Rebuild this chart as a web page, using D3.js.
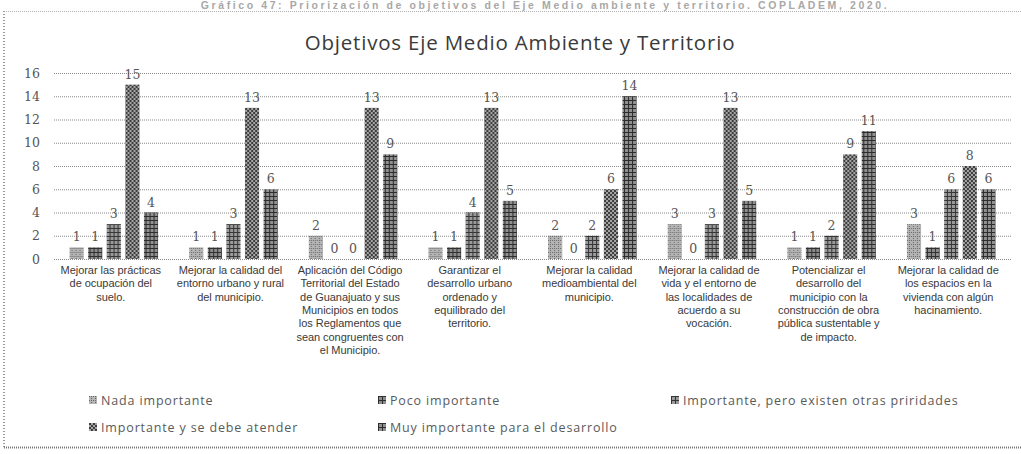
<!DOCTYPE html>
<html>
<head>
<meta charset="utf-8">
<script src="https://cdn.jsdelivr.net/npm/d3@7/dist/d3.min.js"></script>
<style>
  body { margin: 0; background: #fff; }
  svg { display: block; }
</style>
</head>
<body>
<svg width="1021" height="454"></svg>
<script>
// data
const categories = [
  "Mejorar las prácticas\nde ocupación del\nsuelo.",
  "Mejorar la calidad del\nentorno urbano y rural\ndel municipio.",
  "Aplicación del Código\nTerritorial del Estado\nde Guanajuato y sus\nMunicipios en todos\nlos Reglamentos que\nsean congruentes con\nel Municipio.",
  "Garantizar el\ndesarrollo urbano\nordenado y\nequilibrado del\nterritorio.",
  "Mejorar la calidad\nmedioambiental del\nmunicipio.",
  "Mejorar la calidad de\nvida y el entorno de\nlas localidades de\nacuerdo a su\nvocación.",
  "Potencializar el\ndesarrollo del\nmunicipio con la\nconstrucción de obra\npública sustentable y\nde impacto.",
  "Mejorar la calidad de\nlos espacios en la\nvivienda con algún\nhacinamiento."
];
const seriesNames = [
  "Nada importante",
  "Poco importante",
  "Importante, pero existen otras priridades",
  "Importante y se debe atender",
  "Muy importante para el desarrollo"
];
const nada       = [1, 1, 2, 1, 2, 3, 1, 3];
const poco       = [1, 1, 0, 1, 0, 0, 1, 1];
const impOtras   = [3, 3, 0, 4, 2, 3, 2, 6];
const impAtender = [15, 13, 13, 13, 6, 13, 9, 8];
const muyImp     = [4, 6, 9, 5, 14, 5, 11, 6];
const yTicks = [0, 2, 4, 6, 8, 10, 12, 14, 16];

const seriesValues = [nada, poco, impOtras, impAtender, muyImp];

let svg = d3.select("svg");

// textures, the scan is dithered grey so each series gets a small pattern
const defs = svg.append("defs");
const pats = [
  {bg: "#b4b4b4", fg: "#6a6a6a", kind: "dots"},
  {bg: "#8c8c8c", fg: "#2f2f2f", kind: "grid"},
  {bg: "#9a9a9a", fg: "#363636", kind: "grid"},
  {bg: "#a6a6a6", fg: "#3c3c3c", kind: "check"},
  {bg: "#909090", fg: "#2c2c2c", kind: "grid"}
];
pats.forEach((p, i) => {
  const pt = defs.append("pattern").attr("id", "pat" + i)
    .attr("patternUnits", "userSpaceOnUse").attr("width", 4).attr("height", 4);
  pt.append("rect").attr("width", 4).attr("height", 4).attr("fill", p.bg);
  if (p.kind === "grid") {
    pt.append("rect").attr("width", 4).attr("height", 1).attr("fill", p.fg);
    pt.append("rect").attr("width", 1).attr("height", 4).attr("fill", p.fg);
  } else if (p.kind === "check") {
    pt.append("rect").attr("width", 2).attr("height", 2).attr("fill", p.fg);
    pt.append("rect").attr("x", 2).attr("y", 2).attr("width", 2).attr("height", 2).attr("fill", p.fg);
  } else {
    pt.append("rect").attr("width", 1).attr("height", 1).attr("fill", p.fg);
    pt.append("rect").attr("x", 2).attr("y", 2).attr("width", 1).attr("height", 1).attr("fill", p.fg);
    pt.append("rect").attr("x", 2).attr("y", 0).attr("width", 1).attr("height", 1).attr("fill", p.fg);
  }
});

// caption strip at the very top of the scan (mostly cropped in the original)
svg.append("text").attr("x", 545).attr("y", 9).attr("text-anchor", "middle")
  .attr("font-family", "Liberation Sans, Arial").attr("font-size", 10.5).attr("font-weight", "bold")
  .attr("letter-spacing", 2.6).attr("fill", "#a8a8a8")
  .text("Gráfico 47: Priorización de objetivos del Eje Medio ambiente y territorio. COPLADEM, 2020.");

// frame
svg.append("line").attr("x1", 4).attr("x2", 1021).attr("y1", 11.5).attr("y2", 11.5)
  .attr("stroke", "#b0b0b0").attr("stroke-dasharray", "1,1");
svg.append("line").attr("x1", 4).attr("x2", 4).attr("y1", 11).attr("y2", 448)
  .attr("stroke", "#9a9a9a").attr("stroke-width", 2).attr("stroke-dasharray", "1,2");
svg.append("line").attr("x1", 4).attr("x2", 1021).attr("y1", 447.5).attr("y2", 447.5)
  .attr("stroke", "#777").attr("stroke-width", 2).attr("stroke-dasharray", "1,1");

svg.append("text").attr("x", 520).attr("y", 50).attr("text-anchor", "middle")
  .attr("font-family", "Open Sans").attr("font-size", 20.5).attr("letter-spacing", 0.8)
  .attr("fill", "#3a3a3a")
  .text("Objetivos Eje Medio Ambiente y Territorio");

const plotLeft = 54, plotRight = 1011, plotTop = 73, plotBottom = 259;

const y = d3.scaleLinear().domain([0, 16]).range([plotBottom, plotTop]);
const x0 = d3.scaleBand().domain(d3.range(categories.length)).range([plotLeft, plotRight])
  .paddingInner(0.26).paddingOuter(0.13);
const x1 = d3.scaleBand().domain(d3.range(seriesNames.length)).range([0, x0.bandwidth()])
  .paddingInner(0.24).paddingOuter(0);

// gridlines
const yAxis = svg.append("g").attr("transform", `translate(${plotLeft},0)`)
  .call(d3.axisLeft(y).tickValues(yTicks).tickSize(-(plotRight - plotLeft)).tickPadding(14));
yAxis.select(".domain").remove();
yAxis.selectAll(".tick line").attr("stroke", "#8a8a8a").attr("stroke-dasharray", "1,1");
yAxis.selectAll(".tick text").attr("font-family", "DejaVu Serif").attr("font-size", 12.5)
  .attr("fill", "#555");

// bars
const groups = svg.append("g").selectAll("g").data(categories).join("g")
  .attr("transform", (d, i) => `translate(${x0(i)},0)`);

groups.each(function(cat, ci) {
  const g = d3.select(this);
  const vals = seriesValues.map((s, si) => ({si: si, v: s[ci]}));
  g.selectAll("rect").data(vals).join("rect")
    .attr("x", d => x1(d.si)).attr("width", x1.bandwidth())
    .attr("y", d => y(d.v)).attr("height", d => y(0) - y(d.v))
    .attr("fill", d => `url(#pat${d.si})`);
  g.selectAll("text.val").data(vals).join("text").attr("class", "val")
    .attr("x", d => x1(d.si) + x1.bandwidth() / 2).attr("y", d => y(d.v) - 6)
    .attr("text-anchor", "middle")
    .attr("font-family", "DejaVu Serif").attr("font-size", 12.5).attr("fill", "#555")
    .text(d => d.v);
});

// category labels
const catLabels = svg.append("g").selectAll("text").data(categories).join("text")
  .attr("x", (d, i) => x0(i) + x0.bandwidth() / 2 - 3)
  .attr("y", 274)
  .attr("text-anchor", "middle")
  .attr("font-family", "Liberation Sans, Arial").attr("font-size", 11)
  .attr("letter-spacing", -0.05).attr("fill", "#3a3a3a");
catLabels.each(function(d) {
  const t = d3.select(this);
  d.split("\n").forEach((line, li) => {
    t.append("tspan").attr("x", t.attr("x")).attr("dy", li === 0 ? 0 : 13.3).text(line);
  });
});

// legend
const legPos = [[93, 400], [382, 400], [675, 400], [93, 427], [382, 427]];
const leg = svg.append("g").selectAll("g").data(seriesNames).join("g")
  .attr("transform", (d, i) => `translate(${legPos[i][0]},${legPos[i][1]})`);
leg.append("rect").attr("x", -4).attr("y", -4).attr("width", 8).attr("height", 8)
  .attr("fill", (d, i) => `url(#pat${i})`);
leg.append("text").attr("x", 8).attr("y", 4.5)
  .attr("font-family", "Open Sans").attr("font-size", 12.5).attr("letter-spacing", 0.85)
  .attr("fill", "#5a5a5a").text(d => d);
</script>
</body>
</html>
